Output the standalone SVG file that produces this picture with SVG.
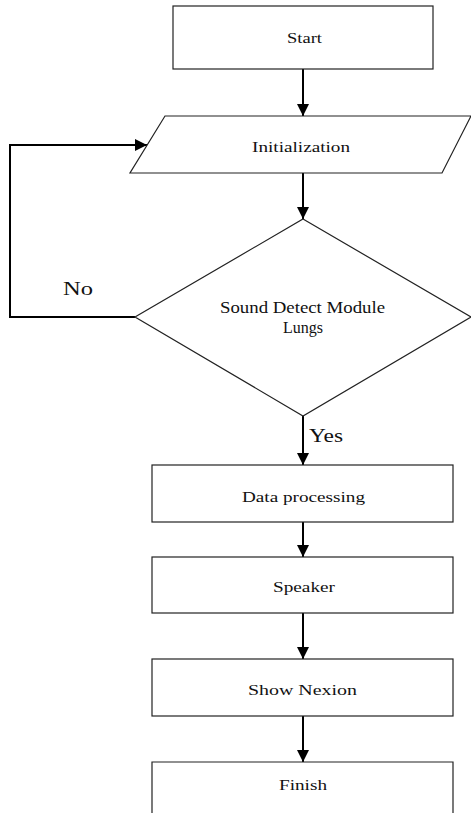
<svg xmlns="http://www.w3.org/2000/svg" width="471" height="817" viewBox="0 0 471 817">
<defs>
<marker id="ah" markerWidth="12" markerHeight="12" refX="12" refY="6" orient="auto" markerUnits="userSpaceOnUse">
<path d="M0,0 L12,6 L0,12 Z" fill="#000"/>
</marker>
<style>
.shape{fill:#fff;stroke:#222;stroke-width:1.2}
.conn{fill:none;stroke:#000;stroke-width:2}
.t{font-family:"Liberation Serif","Times New Roman",serif;fill:#111}
.s15{font-size:15px}
.s16{font-size:16px}
.s18{font-size:18px}
.s19{font-size:19px}
</style>
</defs>
<rect width="471" height="817" fill="#fff"/>
<g id="connectors">
<line class="conn" x1="303" y1="69" x2="303" y2="116" marker-end="url(#ah)"/>
<line class="conn" x1="303" y1="173" x2="303" y2="219" marker-end="url(#ah)"/>
<polyline class="conn" points="135,317 10,317 10,145 147,145" marker-end="url(#ah)"/>
<line class="conn" x1="303" y1="416" x2="303" y2="465" marker-end="url(#ah)"/>
<line class="conn" x1="303" y1="522" x2="303" y2="557" marker-end="url(#ah)"/>
<line class="conn" x1="303" y1="613" x2="303" y2="659" marker-end="url(#ah)"/>
<line class="conn" x1="303" y1="716" x2="303" y2="762" marker-end="url(#ah)"/>
<text class="t s18" x="63" y="295" textLength="30" lengthAdjust="spacingAndGlyphs">No</text>
<text class="t s19" x="309" y="442" textLength="34" lengthAdjust="spacingAndGlyphs">Yes</text>
</g>
<g id="start">
<rect class="shape" x="173" y="6" width="260" height="63"/>
<text class="t s15" x="287" y="43" textLength="35" lengthAdjust="spacingAndGlyphs">Start</text>
</g>
<g id="init">
<polygon class="shape" points="165,116 471,116 442,173 130,173"/>
<text class="t s15" x="252" y="152" textLength="98" lengthAdjust="spacingAndGlyphs">Initialization</text>
</g>
<g id="decision">
<polygon class="shape" points="303,219 471,317 303,416 135,317"/>
<text class="t s16" x="220" y="313" textLength="165" lengthAdjust="spacingAndGlyphs">Sound Detect Module</text>
<text class="t s16" x="283" y="333" textLength="40" lengthAdjust="spacingAndGlyphs">Lungs</text>
</g>
<g id="data">
<rect class="shape" x="152" y="465" width="301" height="57"/>
<text class="t s15" x="242" y="502" textLength="123" lengthAdjust="spacingAndGlyphs">Data processing</text>
</g>
<g id="speaker">
<rect class="shape" x="152" y="557" width="301" height="56"/>
<text class="t s15" x="273" y="592" textLength="62" lengthAdjust="spacingAndGlyphs">Speaker</text>
</g>
<g id="nexion">
<rect class="shape" x="152" y="659" width="301" height="57"/>
<text class="t s15" x="248" y="695" textLength="109" lengthAdjust="spacingAndGlyphs">Show Nexion</text>
</g>
<g id="finish">
<path class="shape" d="M152,813 L152,762 L453,762 L453,813"/>
<text class="t s15" x="279" y="790" textLength="48" lengthAdjust="spacingAndGlyphs">Finish</text>
</g>
</svg>
